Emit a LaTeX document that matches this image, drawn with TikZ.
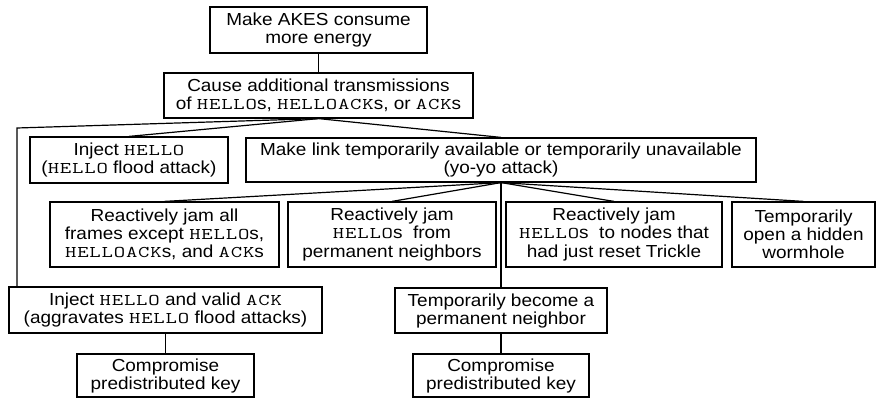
\documentclass[tikz,border=0pt]{standalone}
\usepackage{fontspec}
\setmainfont[FakeStretch=1.09]{Liberation Sans}
\newfontfamily\cour[Scale=0.94,FakeStretch=1.35,LetterSpace=5]{Latin Modern Mono}
\newcommand\mono[1]{{\cour #1}}

\begin{document}
\begin{tikzpicture}[x=1pt, y=-1pt,
  box/.style={draw, line width=1.2pt, align=center, inner sep=0pt,
    font=\fontsize{17.4}{18}\selectfont},
  link/.style={line width=1.2pt}]
\useasboundingbox (0,0) rectangle (877,398);

% root and first refinement
\node[box, minimum width=217, minimum height=46] (goal) at (318.5,30)
  {Make AKES consume\\more energy};
\node[box, minimum width=309, minimum height=45] (cause) at (318.5,95.5)
  {Cause additional transmissions\\of \mono{HELLO}s, \mono{HELLOACK}s, or \mono{ACK}s};

% second level
\node[box, minimum width=198, minimum height=46] (flood) at (129,160)
  {Inject \mono{HELLO}\\(\mono{HELLO} flood attack)};
\node[box, minimum width=510, minimum height=44] (yoyo) at (501,160)
  {Make link temporarily available or temporarily unavailable\\(yo-yo attack)};

% yo-yo variants
\node[box, minimum width=229, minimum height=65] (jamall) at (164.5,234.5)
  {Reactively jam all\\frames except \mono{HELLO}s,\\\mono{HELLOACK}s, and \mono{ACK}s};
\node[box, minimum width=208, minimum height=65] (jamperm) at (392,234.5)
  {Reactively jam\\\mono{HELLO}s\ \ from\\permanent neighbors};
\node[box, minimum width=216, minimum height=65] (jamreset) at (614,234.5)
  {Reactively jam\\\mono{HELLO}s\ \ to nodes that\\had just reset Trickle};
\node[box, minimum width=143, minimum height=65] (worm) at (803.5,234.5)
  {Temporarily\\open a hidden\\wormhole};

% third level
\node[box, minimum width=313, minimum height=46] (inject) at (165.5,310)
  {Inject \mono{HELLO} and valid \mono{ACK}\\(aggravates \mono{HELLO} flood attacks)};
\node[box, minimum width=212, minimum height=45] (become) at (501,310.5)
  {Temporarily become a\\permanent neighbor};

% leaves
\node[box, minimum width=177, minimum height=43] (keyL) at (165.5,375.5)
  {Compromise\\predistributed key};
\node[box, minimum width=176, minimum height=43] (keyR) at (501,375.5)
  {Compromise\\predistributed key};

\coordinate (bend) at (17,128);

% connectors
\draw[link] (goal.south) -- (cause.north);
\draw[link] (cause.south) -- (flood.north);
\draw[link] (cause.south) -- (yoyo.north);
\draw[link] (cause.south) -- (bend) -- (bend |- inject.north);
\draw[link] (yoyo.south) -- (jamall.north);
\draw[link] (yoyo.south) -- (jamperm.north);
\draw[link] (yoyo.south) -- (jamreset.north);
\draw[link] (yoyo.south) -- (worm.north);
\draw[link] (yoyo.south) -- (become.north);
\draw[link] (inject.south) -- (keyL.north);
\draw[link] (become.south) -- (keyR.north);
\end{tikzpicture}
\end{document}
